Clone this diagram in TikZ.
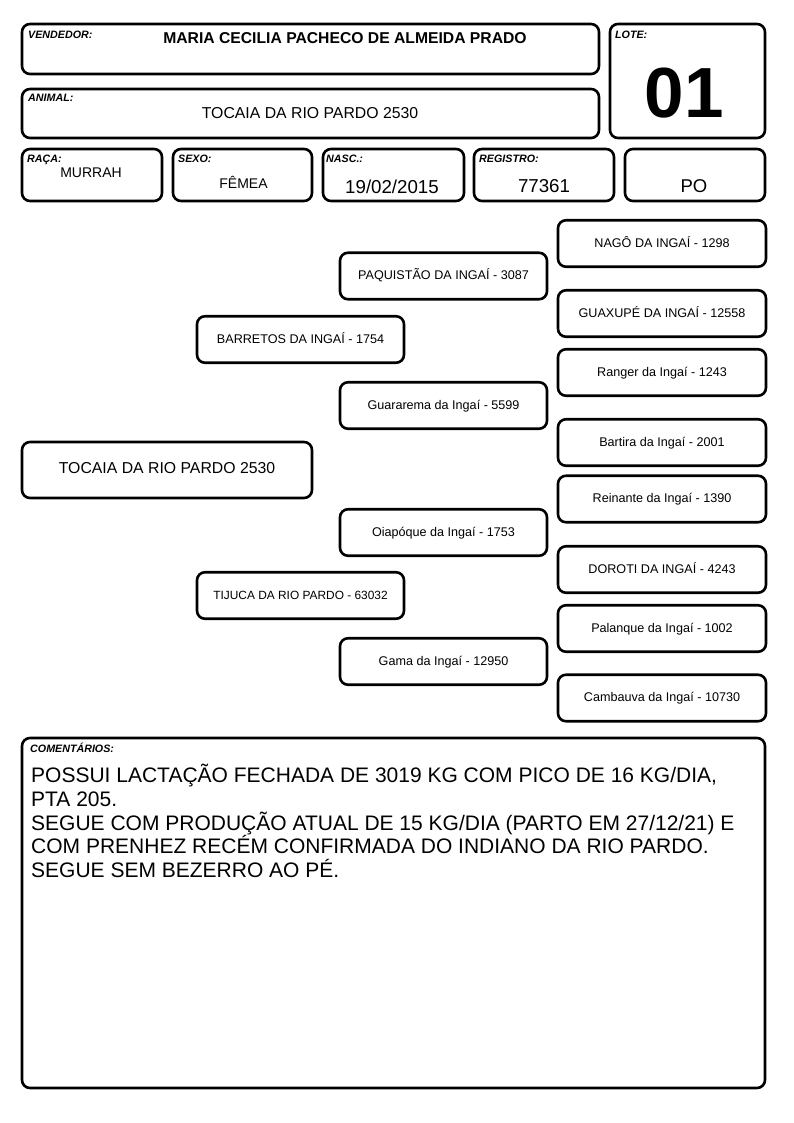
\documentclass[tikz,border=0pt]{standalone}
\usepackage{fontspec}
\setmainfont{Liberation Sans}
\newcommand{\fsz}[1]{\fontsize{#1}{#1}\selectfont}

\begin{document}
\begin{tikzpicture}[x=1pt, y=-1pt,
	cell/.style={draw, line width=2.6pt, rounded corners=8pt, inner sep=0pt},
	tag/.style={anchor=base west, inner sep=0pt, font=\bfseries\itshape\fsz{10.7}},
	value/.style={anchor=base, inner sep=0pt},
	ancestor/.style={cell, minimum width=207pt, minimum height=46.5pt, font=\fsz{12.6}, text height=.72em, text depth=0pt}]
	\useasboundingbox (0,0) rectangle (794,1123);
	% cabecalho
	\node[cell, minimum width=577pt, minimum height=50pt] (vendedor) at (310.5,49) {};
	\node[cell, minimum width=577pt, minimum height=49pt] (animal) at (310.5,113.5) {};
	\node[cell, minimum width=155pt, minimum height=114pt] (lote) at (687.5,81) {};
	\node[cell, minimum width=140pt, minimum height=52pt] (raca) at (92,175) {};
	\node[cell, minimum width=139pt, minimum height=52pt] (sexo) at (242.5,175) {};
	\node[cell, minimum width=141pt, minimum height=52pt] (nasc) at (393.5,175) {};
	\node[cell, minimum width=140pt, minimum height=52pt] (registro) at (544,175) {};
	\node[cell, minimum width=140pt, minimum height=52pt] (po) at (695,175) {};
	\node[tag] (tvendedor) at (28,38.3) {VENDEDOR:};
	\node[tag] (tanimal) at (28,101.7) {ANIMAL:};
	\node[tag] (tlote) at (615,38.7) {LOTE:};
	\node[tag] (traca) at (27,162.3) {RAÇA:};
	\node[tag] (tsexo) at (178,162.3) {SEXO:};
	\node[tag] (tnasc) at (326,162.3) {NASC.:};
	\node[tag] (tregistro) at (479,162.3) {REGISTRO:};
	\node[value, font=\bfseries\fsz{15.7}] (nvendedor) at (345,43.3) {MARIA CECILIA PACHECO DE ALMEIDA PRADO};
	\node[value, font=\fsz{15.8}] (nanimal) at (310,119) {TOCAIA DA RIO PARDO 2530};
	\node[value, font=\bfseries\fsz{71}] (nlote) at (684,118) {01};
	\node[value, font=\fsz{14}] (nraca) at (91,177.7) {MURRAH};
	\node[value, font=\fsz{14}] (nsexo) at (243.5,189) {FÊMEA};
	\node[value, font=\fsz{18.7}] (nnasc) at (392,193.3) {19/02/2015};
	\node[value, font=\fsz{18.7}] (nregistro) at (544,193) {77361};
	\node[value, font=\fsz{18.5}] (npo) at (694,192.5) {PO};
	% genealogia
	\node[ancestor, minimum width=290pt, minimum height=56pt, font=\fsz{15.8}] (tocaia) at (167,470) {TOCAIA DA RIO PARDO 2530};
	\node[ancestor] (p) at (300.5,339.5) {BARRETOS DA INGAÍ - 1754};
	\node[ancestor, font=\fsz{11.9}] (m) at (300.5,595.5) {TIJUCA DA RIO PARDO - 63032};
	\node[ancestor] (pp) at (443.5,276) {PAQUISTÃO DA INGAÍ - 3087};
	\node[ancestor] (pm) at (443.5,405.5) {Guararema da Ingaí - 5599};
	\node[ancestor] (mp) at (443.5,532.5) {Oiapóque da Ingaí - 1753};
	\node[ancestor] (mm) at (443.5,661.5) {Gama da Ingaí - 12950};
	\node[ancestor, minimum width=208pt] (ppp) at (662,243.5) {NAGÔ DA INGAÍ - 1298};
	\node[ancestor, minimum width=208pt] (ppm) at (662,313.5) {GUAXUPÉ DA INGAÍ - 12558};
	\node[ancestor, minimum width=208pt] (pmp) at (662,372.5) {Ranger da Ingaí - 1243};
	\node[ancestor, minimum width=208pt] (pmm) at (662,442.5) {Bartira da Ingaí - 2001};
	\node[ancestor, minimum width=208pt] (mpp) at (662,499) {Reinante da Ingaí - 1390};
	\node[ancestor, minimum width=208pt] (mpm) at (662,569.5) {DOROTI DA INGAÍ - 4243};
	\node[ancestor, minimum width=208pt] (mmp) at (662,628.5) {Palanque da Ingaí - 1002};
	\node[ancestor, minimum width=208pt] (mmm) at (662,698) {Cambauva da Ingaí - 10730};
	% comentarios
	\node[cell, minimum width=743pt, minimum height=350pt] (comentarios) at (393.5,913) {};
	\node[tag] (tcomentarios) at (30,752.5) {COMENTÁRIOS:};
	\node[anchor=base west, inner sep=0pt, align=left, font=\fontsize{21}{23.75}\selectfont] (ncomentarios) at (31,877.5)
		{POSSUI LACTAÇÃO FECHADA DE 3019 KG COM PICO DE 16 KG/DIA,\\
		PTA 205.\\
		SEGUE COM PRODUÇÃO ATUAL DE 15 KG/DIA (PARTO EM 27/12/21) E\\
		COM PRENHEZ RECÉM CONFIRMADA DO INDIANO DA RIO PARDO.\\
		SEGUE SEM BEZERRO AO PÉ.};
\end{tikzpicture}
\end{document}
